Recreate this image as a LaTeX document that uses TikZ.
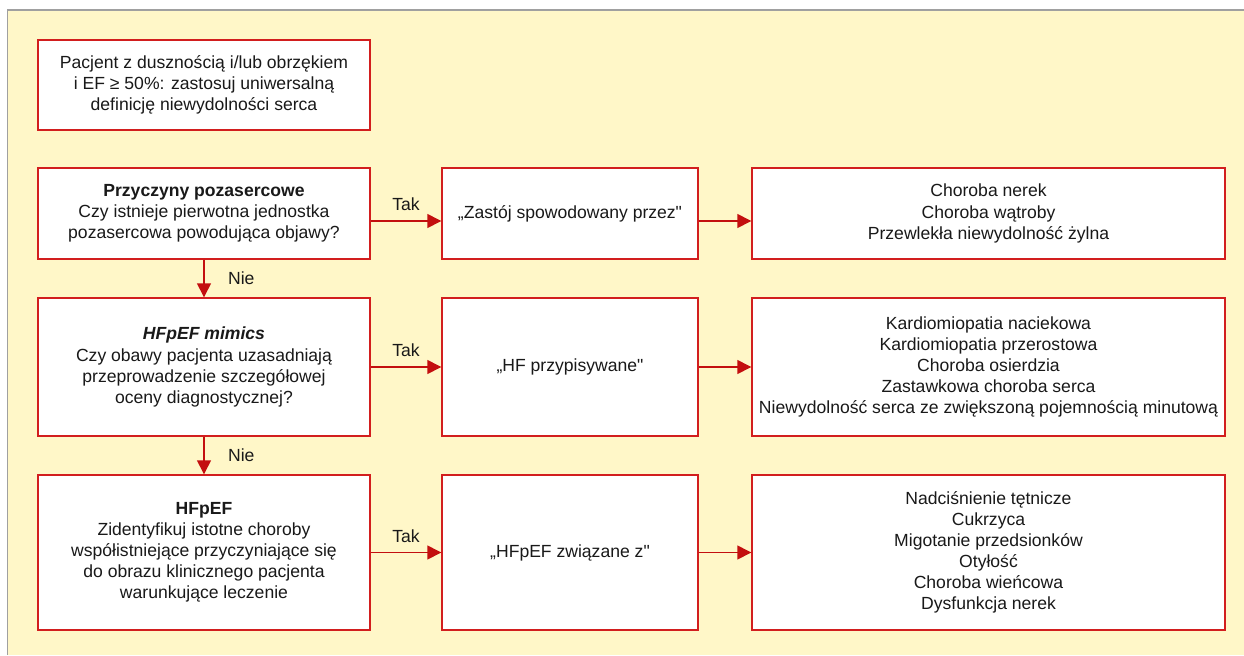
\documentclass[tikz,border=0pt]{standalone}
\usepackage{fontspec}
\setmainfont{Liberation Sans}
\usepackage{tikz}
\usetikzlibrary{arrows.meta,positioning}
\definecolor{panelyellow}{RGB}{255,247,200}
\definecolor{panelgrey}{RGB}{160,160,160}
\definecolor{boxred}{RGB}{210,30,30}
\definecolor{arrowred}{RGB}{195,15,15}

\begin{document}
\begin{tikzpicture}[
  every node/.style={font=\fontsize{10}{12}\selectfont, text=black!90},
  box/.style={draw=boxred, line width=0.8pt, fill=white, align=center,
              inner sep=0pt, minimum width=6.64cm},
  midbox/.style={box, minimum width=5.12cm},
  listbox/.style={box, minimum width=9.46cm},
  arr/.style={draw=arrowred, line width=0.8pt,
              -{Triangle[length=0.28cm, width=0.28cm]}, fill=arrowred}
]
\useasboundingbox (0,0) rectangle (24.88,-13.1);
% panel
\fill[panelyellow] (0.15,-0.2) rectangle (24.88,-13.1);
\draw[panelgrey, line width=0.8pt] (0.15,-13.1) -- (0.15,-0.2) -- (24.88,-0.2);

\node[box, minimum height=1.8cm] (start) at (4.08,-1.7)
  {Pacjent z dusznością i/lub obrzękiem\\ i EF ≥ 50\%: zastosuj uniwersalną\\ definicję niewydolności serca};

% row 1
\node[box, minimum height=1.82cm] (extra) at (4.08,-4.27)
  {\textbf{Przyczyny pozasercowe}\\ Czy istnieje pierwotna jednostka\\ pozasercowa powodująca objawy?};
\node[midbox, minimum height=1.82cm] (zastoj) at (11.4,-4.27)
  {„Zastój spowodowany przez\textquotedbl};
\node[listbox, minimum height=1.82cm] (zastojlist) at (19.77,-4.27)
  {Choroba nerek\\ Choroba wątroby\\ Przewlekła niewydolność żylna};

% row 2
\node[box, minimum height=2.76cm] (mimics) at (4.08,-7.34)
  {\textbf{\textit{HFpEF mimics}}\\ Czy obawy pacjenta uzasadniają\\ przeprowadzenie szczegółowej\\ oceny diagnostycznej?};
\node[midbox, minimum height=2.76cm] (hfattr) at (11.4,-7.34)
  {„HF przypisywane\textquotedbl};
\node[listbox, minimum height=2.76cm] (hfattrlist) at (19.77,-7.34)
  {Kardiomiopatia naciekowa\\ Kardiomiopatia przerostowa\\ Choroba osierdzia\\ Zastawkowa choroba serca\\ Niewydolność serca ze zwiększoną pojemnością minutową};

% row 3
\node[box, minimum height=3.1cm] (hfpef) at (4.08,-11.05)
  {\textbf{HFpEF}\\ Zidentyfikuj istotne choroby\\ współistniejące przyczyniające się\\ do obrazu klinicznego pacjenta\\ warunkujące leczenie};
\node[midbox, minimum height=3.1cm] (hfpefrel) at (11.4,-11.05)
  {„HFpEF związane z\textquotedbl};
\node[listbox, minimum height=3.1cm] (hfpeflist) at (19.77,-11.05)
  {Nadciśnienie tętnicze\\ Cukrzyca\\ Migotanie przedsionków\\ Otyłość\\ Choroba wieńcowa\\ Dysfunkcja nerek};

% connectors
\draw[arr] ([yshift=-0.15cm]extra.east) -- node[above, yshift=2pt, fill=none] {Tak} ([yshift=-0.15cm]zastoj.west);
\draw[arr] ([yshift=-0.15cm]zastoj.east) -- ([yshift=-0.15cm]zastojlist.west);
\draw[arr] (mimics.east) -- node[above, yshift=2pt, fill=none] {Tak} (hfattr.west);
\draw[arr] (hfattr.east) -- (hfattrlist.west);
\draw[arr] (hfpef.east) -- node[above, yshift=2pt, fill=none] {Tak} (hfpefrel.west);
\draw[arr] (hfpefrel.east) -- (hfpeflist.west);
\draw[arr] (extra.south) -- node[right, xshift=10pt, fill=none] {Nie} (mimics.north);
\draw[arr] (mimics.south) -- node[right, xshift=10pt, fill=none] {Nie} (hfpef.north);
\end{tikzpicture}
\end{document}
